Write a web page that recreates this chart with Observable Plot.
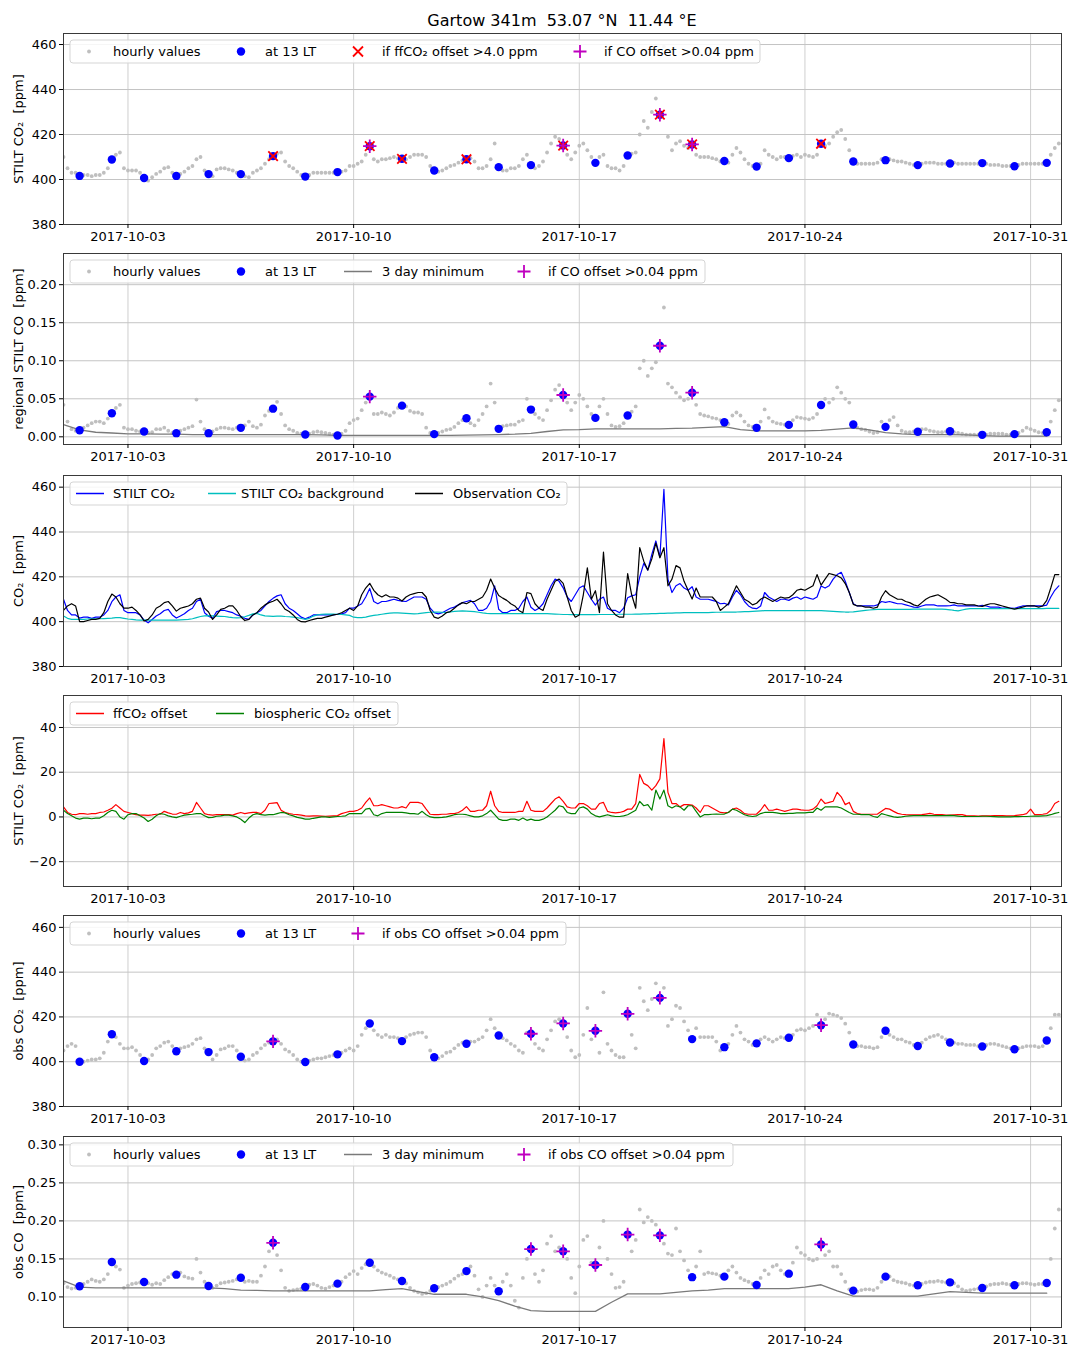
<!DOCTYPE html>
<html><head><meta charset="utf-8">
<script src="https://cdn.jsdelivr.net/npm/d3@7"></script>
<script src="https://cdn.jsdelivr.net/npm/@observablehq/plot@0.6"></script>
<style>
body{margin:0;background:#fff;font-family:"DejaVu Sans",sans-serif;}
#fig{position:relative;width:1069px;height:1349px;overflow:hidden;}
#title{position:absolute;top:11px;left:0;width:1124px;text-align:center;font-size:16px;white-space:pre;color:#000;}
</style></head>
<body><div id="fig"><div id="title">Gartow 341m  53.07 °N  11.44 °E</div></div>
<script>
// ---- sampling: each row = one day (2017-10-01 .. 2017-10-31), values at 00,03,...,21 UTC (12 UTC = 13 LT)
const hours = [0,3,6,9,12,15,18,21];
const minHours = [0,12];
const xTickDates = ["2017-10-03","2017-10-10","2017-10-17","2017-10-24","2017-10-31"];

const stiltCO2 = [
[410,405,403,403,401.6,402,402,401.5],[402,402,403,405,408.9,411,412,405],[404,404,404,403,400.7,399.5,401,402.5],
[403.5,405,405.5,403,401.6,402.5,403.5,405],[406,409,410,404,402.4,401.5,404.5,405],[405,404.5,404,403,402.4,401.5,401,403],
[404,405,407,409,410.4,411.5,412,408],[406,405,403.5,402,401.3,402,403,403],[403,403,403,403,403.3,403.5,404,406],
[406,407,408,411,414.8,409,408,409],[409,409.5,410,409.5,409.2,409,410,411],[411,411,410,406,404,403.5,404,405],
[406,406.5,407.5,408.5,409,409.5,408,405],[405,406,409,416,405.5,404,404,405],[405,406,409,411,406.4,405,406,408],
[412,416,419,418,415.1,411,409,412],[415,416,413,410,407.4,410,411,406],[405,405,404,406,410.7,411.5,412,420],
[426,423,430,436,428.8,459,419,413],[416,417,415,414,415.6,411,410,410],[410,409.5,409,408,408.2,407.5,411,414],
[412,409,407,406,405.8,407,413,411],[410,409,410,410,409.5,410.5,411,410],[411,410.5,410,411,415.9,415,416,419],
[421,422,418,413,408,407,407,407],[407,407,407.5,409,408.6,409,408.5,408],[408,407.5,407,406.5,406.4,407,407.5,407.5],
[407.5,407,407,407,407.1,407.5,407,407],[407,407,407,407,407.3,407,406.5,406.5],[406.5,406,406,406,405.9,406.5,407,407],
[407,407,407,407,407.4,411,414,416]];

const stiltCO2bg = [
[402.5,401.5,401,401,401,401,401.2,401.3],[401.3,401.3,401.4,401.5,401.6,401.8,401.8,401.5],[401.2,401,400.8,400.7,400.7,400.7,400.7,400.7],
[400.7,400.7,400.7,400.7,400.7,400.8,400.9,401],[401.3,401.8,402.3,402.6,402.7,402.6,402.5,402.4],[402.3,402,401.8,401.7,401.8,402.2,402.8,403.5],
[403.7,403,402.6,402.5,402.4,402.5,402.5,402.3],[402.2,402,401.8,401.4,401,401.5,402.5,403],[403.3,403.4,403.4,403.4,403.3,403.2,403,402.8],
[402,401.8,401.8,402,402.5,402.8,403,403.3],[403.6,403.8,403.9,403.9,403.8,403.7,403.6,403.5],[403.6,403.8,404,404.2,404.3,404.3,404.2,404],
[404.3,404.6,404.7,404.8,404.7,404.6,404.5,404.2],[403.9,403.7,403.6,403.6,403.6,403.6,403.6,403.6],[403.6,403.6,403.6,403.6,403.6,403.6,403.6,403.6],
[403.6,403.5,403.4,403.3,403.2,403.2,403.1,403.1],[403.1,403.1,403.1,403.1,403.1,403.2,403.2,403.2],[403.2,403.2,403.3,403.3,403.3,403.3,403.4,403.4],
[403.5,403.5,403.6,403.6,403.7,403.7,403.8,403.8],[403.9,403.9,404,404,404,404,404,404],[404,404.1,404.2,404.2,404.3,404.3,404.3,404.3],
[404.4,404.5,404.5,404.6,404.7,404.8,404.9,404.9],[404.9,404.9,404.9,404.9,404.9,404.9,404.9,404.9],[404.9,404.9,404.9,404.9,404.9,404.8,404.7,404.6],
[404.5,404.4,404.3,404.3,404.4,404.6,404.8,405],[405.2,405.4,405.5,405.5,405.5,405.5,405.5,405.5],[405.5,405.5,405.5,405.6,405.6,405.6,405.6,405.6],
[405.6,405.6,405.6,405.5,405.3,405,404.8,405.2],[405.6,405.8,405.8,405.8,405.8,405.8,405.8,405.8],[405.8,405.8,405.8,405.8,405.8,405.8,405.8,405.8],
[405.8,405.8,405.8,405.8,405.9,405.9,405.9,405.9]];

const obsCO2 = [
[405,407,408,407,400,400,400.5,401],[401,401.5,404,409,412.3,411,408,406],[406,406.5,405,403,400.3,401,403,406],
[407,408.5,409,407,404.7,406,406.5,407],[408,410,410.5,406,404.3,401,403,405.5],[406,407,407,405,402.2,400.5,401,403],
[404,406,407.5,408.5,409.1,410,408,405.5],[404.5,403,401,400,399.9,400.5,401,401.5],[401.5,402,402.5,403,403.3,404,405,406],
[405,407,412,415,417.1,414,412,411],[412,411,411,410.5,409.2,411,412,412.5],[413,413,411,405,402,401.5,402.5,404],
[404.5,406,407.5,408.5,408,409,409,410],[411,414,419,415,411.7,410.5,409.5,408],[407,405,404,413,412.5,408,406,405],
[410,414,418,419,417.1,411,405,402],[403,412,424,410,413.8,404,431,408],[405,403,402,402,421.4,412,406,433],
[427,423,428,435,428.5,433,416,419],[425,424,418,414,410.1,415,411,411],[411,411,409,405,406.5,408,412,416],
[413,410,409,407.5,408.2,410,411,410],[409,410,411,410.5,410.7,412,414,414.5],[414,415,416,421,416.3,419,421.5,421],
[420.5,419.5,417,413,407.7,407,407,406.5],[406.5,406,406.5,411,413.8,412,411,410],[410,409,408.5,407.5,407,408.5,410,411],
[411.5,412,411,410,408.6,408.5,408,408],[407.5,407.5,407.5,407,406.8,407.5,408,408],[407.5,407,406.5,406,405.6,406,406.5,407],
[407,407,406.5,407,409.5,415,421,421]];

const ffCO2offset = [
[4.5,2,1.2,1,1.5,1.5,1.2,1.5],[1.5,2,2.2,3,3.9,5.5,4,2.5],[2,1.5,1,0.8,0.8,0.7,0.9,1.2],
[1.2,2.5,1.8,1.3,1.2,2,1.5,1.8],[2.5,6.5,4,1.5,1,0.8,1,1],[1,1,0.8,1.5,2,1.5,1.8,2],
[2,1.5,3,6,6.2,6.4,3,2],[1.5,1.2,1,0.8,0.5,0.4,0.5,0.5],[0.4,0.3,0.4,0.5,0.6,1.5,2,2.5],
[2.5,3,4,6.5,8.5,5,5,5.5],[5,4.5,4,4,4.6,4,6.5,6.5],[6.5,6,3.5,1.2,1,1,1.2,1.2],
[1.5,1.5,2,3,4.6,2.5,2.5,3],[3,5,11.5,5,2.5,2,2,2],[2,2.5,2.5,7,3,2.5,2.5,2.5],
[4,6,8,9,7,4.5,4,4],[6,6,5,3.5,3.5,6,6.5,2.5],[2,1.8,2,2.5,3.5,3.5,6,19],
[15,14,12,14,17,35,11,6],[6,4.5,5.5,5.5,5.3,4,2,5],[5,4,3,2,1.8,2,3.5,4],
[3,1.5,1.2,1.2,1.3,3,5.5,3],[3,3.5,3,2.5,3,3.5,3.5,3.2],[3,3,3.5,5,8,6,6.5,7],
[11,9,5.5,6.5,2.5,1.5,1.2,1.2],[1.2,1.2,1.3,2.5,3.8,3.5,2.5,1.6],[1.2,1,0.9,0.9,0.9,1,1.3,1.6],
[1.2,1,1,0.8,0.8,0.9,1,1],[0.6,0.5,0.5,0.4,0.5,0.5,0.5,0.6],[0.6,0.6,0.5,0.5,0.6,0.8,1,1.5],
[3.5,1,1,1.2,1.5,3,6,7]];

const bioCO2offset = [
[3,1.5,0.5,-0.5,-1,-0.5,-0.5,-0.8],[-0.5,-0.5,0.5,2,3,2.5,0,-1],[1,1.5,1.5,0.5,-0.5,-2,-1,0.5],
[1.5,1.2,0.5,0,-0.3,0.3,0.8,1],[1.2,1.5,1.5,0.5,-0.3,-0.2,0.3,0.5],[0.8,0.8,0.5,0,-1,-2.5,-0.5,1],
[1.5,1,0.8,1,1,1.5,2,1.8],[1,0.5,-0.2,-0.5,-1,-1,-0.6,-0.3],[0,0,-0.2,0,0.2,0.3,0.5,1.5],
[1.5,1.5,1.5,3.5,3.8,1,0.5,1.5],[2,2,2,2,2,1.8,1.5,1.5],[1.2,2.5,1,0,-0.3,-0.3,-0.2,0],
[0.5,1,1.2,1.2,1,0.5,0,0],[0.5,1.5,3,1,-1,-1.5,-1.5,-1],[-1,-1.5,-0.5,-1.5,-1,-1.5,-1.5,-1],
[0,1.5,3,5,4.5,2,1.5,1.5],[4,4.5,3.5,1.5,0.5,0,0.5,1],[0.5,0.2,0.2,0.5,1,2,3,7],
[5,5.5,3,12,8,12,5,4],[5,4.5,3,5,5,2.5,0,1],[1,1.2,1.3,1.2,1.3,2,3.5,3],
[2,1,0.5,0.2,0.5,1.5,2,2],[2,1.8,1.5,1.5,1.6,1.6,1.8,1.8],[1.8,2,2,4,3,4.5,4.5,4.5],
[4.5,4,3,2,1.2,1.2,1,1],[1,0.2,-0.2,1.5,1,0.5,0,-0.2],[0,0.3,0.5,0.6,0.6,0.6,0.6,0.6],
[0.6,0.6,0.6,0.6,0.7,0.6,0.4,0.2],[0.2,0.2,0.2,0.2,0.3,0.3,0.2,0.1],[0,0,0,0,0.1,0.1,0.2,0.2],
[0.3,0.4,0.4,0.5,0.6,1,1.6,2]];

const stiltCO = [
[0.042,0.02,0.01,0.008,0.0087,0.012,0.015,0.018],[0.02,0.02,0.018,0.024,0.031,0.038,0.042,0.012],[0.01,0.01,0.008,0.007,0.007,0.005,0.006,0.01],
[0.01,0.012,0.008,0.005,0.0048,0.008,0.01,0.012],[0.014,0.049,0.02,0.01,0.0048,0.007,0.01,0.012],[0.012,0.011,0.01,0.012,0.0118,0.015,0.02,0.014],
[0.012,0.016,0.028,0.034,0.037,0.046,0.03,0.015],[0.01,0.008,0.005,0.004,0.003,0.004,0.006,0.007],[0.006,0.005,0.004,0.003,0.0017,0.004,0.008,0.018],
[0.022,0.024,0.035,0.045,0.0528,0.03,0.03,0.032],[0.03,0.028,0.032,0.038,0.041,0.04,0.034,0.032],[0.032,0.03,0.012,0.005,0.0035,0.005,0.007,0.009],
[0.01,0.013,0.018,0.022,0.0245,0.018,0.015,0.022],[0.03,0.04,0.07,0.045,0.0105,0.014,0.015,0.016],[0.016,0.02,0.022,0.05,0.0358,0.03,0.025,0.022],
[0.035,0.048,0.062,0.068,0.055,0.045,0.035,0.045],[0.055,0.05,0.04,0.03,0.0249,0.04,0.05,0.03],[0.015,0.013,0.014,0.018,0.028,0.033,0.04,0.09],
[0.1,0.08,0.09,0.098,0.1197,0.17,0.07,0.065],[0.058,0.052,0.048,0.05,0.058,0.042,0.03,0.028],[0.027,0.025,0.024,0.022,0.0192,0.017,0.028,0.032],
[0.028,0.02,0.015,0.013,0.0118,0.02,0.036,0.025],[0.02,0.018,0.017,0.016,0.0157,0.022,0.026,0.025],[0.024,0.023,0.025,0.03,0.0419,0.05,0.045,0.05],
[0.065,0.058,0.05,0.045,0.0162,0.012,0.01,0.009],[0.007,0.005,0.006,0.02,0.0131,0.022,0.026,0.015],[0.008,0.006,0.006,0.007,0.0066,0.01,0.01,0.008],
[0.007,0.006,0.006,0.007,0.0074,0.006,0.005,0.004],[0.003,0.003,0.003,0.0025,0.0026,0.003,0.004,0.004],[0.004,0.004,0.003,0.003,0.0035,0.005,0.008,0.012],
[0.01,0.008,0.006,0.005,0.0061,0.02,0.035,0.048]];

// 3 day minimum, values at 00 and 12 UTC of each day
const stiltCOmin = [
[0.016,0.009],[0.006,0.005],[0.004,0.004],[0.0035,0.0035],[0.003,0.003],[0.003,0.003],[0.003,0.003],[0.003,0.003],
[0.0025,0.002],[0.002,0.002],[0.002,0.002],[0.002,0.002],[0.002,0.0022],[0.0025,0.003],[0.0035,0.0045],[0.007,0.009],
[0.0095,0.0105],[0.0105,0.0105],[0.0105,0.0105],[0.011,0.0115],[0.0125,0.0135],[0.0095,0.0078],[0.0078,0.0078],[0.0078,0.0085],
[0.01,0.0118],[0.009,0.0055],[0.004,0.003],[0.003,0.003],[0.0025,0.0015],[0.001,0.001],[0.001,0.001]];

const obsCO = [
[0.118,0.113,0.111,0.112,0.114,0.117,0.12,0.123],[0.121,0.12,0.123,0.13,0.146,0.14,0.136,0.112],[0.115,0.117,0.118,0.119,0.1197,0.118,0.116,0.118],
[0.117,0.122,0.126,0.13,0.1293,0.132,0.127,0.125],[0.124,0.15,0.132,0.12,0.1144,0.112,0.115,0.118],[0.119,0.12,0.121,0.123,0.1253,0.12,0.121,0.12],
[0.12,0.128,0.14,0.16,0.1712,0.155,0.135,0.112],[0.108,0.109,0.11,0.111,0.1131,0.116,0.117,0.115],[0.112,0.111,0.113,0.115,0.1175,0.12,0.126,0.13],
[0.134,0.13,0.138,0.143,0.145,0.14,0.135,0.132],[0.13,0.128,0.125,0.123,0.121,0.118,0.112,0.108],[0.106,0.104,0.105,0.108,0.1114,0.113,0.115,0.117],
[0.12,0.124,0.128,0.13,0.134,0.14,0.128,0.11],[0.1,0.115,0.125,0.115,0.1074,0.12,0.13,0.115],[0.095,0.086,0.125,0.15,0.163,0.13,0.12,0.135],
[0.17,0.18,0.16,0.165,0.16,0.15,0.125,0.105],[0.14,0.175,0.18,0.145,0.142,0.165,0.2,0.15],[0.13,0.112,0.113,0.12,0.182,0.16,0.175,0.215],
[0.198,0.205,0.2,0.195,0.181,0.17,0.157,0.155],[0.19,0.16,0.148,0.135,0.126,0.14,0.16,0.13],[0.132,0.131,0.13,0.128,0.1267,0.135,0.14,0.132],
[0.125,0.122,0.12,0.117,0.1157,0.125,0.135,0.13],[0.14,0.142,0.135,0.13,0.1306,0.145,0.165,0.158],[0.155,0.15,0.148,0.15,0.169,0.155,0.16,0.14],
[0.14,0.13,0.12,0.11,0.1083,0.107,0.109,0.11],[0.11,0.109,0.112,0.12,0.1267,0.127,0.122,0.12],[0.119,0.118,0.116,0.115,0.1153,0.117,0.119,0.12],
[0.12,0.121,0.12,0.119,0.1192,0.118,0.114,0.11],[0.108,0.109,0.11,0.111,0.1118,0.114,0.116,0.117],[0.117,0.118,0.117,0.116,0.1153,0.117,0.118,0.118],
[0.117,0.116,0.117,0.117,0.1184,0.15,0.19,0.215]];

const obsCOmin = [
[0.121,0.113],[0.112,0.112],[0.112,0.112],[0.112,0.112],[0.112,0.112],[0.111,0.109],[0.1085,0.108],[0.108,0.108],
[0.108,0.108],[0.108,0.108],[0.1095,0.111],[0.107,0.1035],[0.1035,0.1035],[0.1,0.095],[0.088,0.082],[0.081,0.081],
[0.081,0.081],[0.093,0.104],[0.104,0.104],[0.106,0.108],[0.109,0.111],[0.111,0.111],[0.111,0.111],[0.113,0.116],
[0.108,0.101],[0.101,0.101],[0.101,0.101],[0.104,0.107],[0.106,0.105],[0.105,0.105],[0.105,0.105]];

const FF_LIMIT = 4.0, CO_LIMIT = 0.04;

// ---- build tables
const tOf = (d, h) => new Date(Date.UTC(2017, 9, 1 + d, h));
function series(rows, hs = hours) {
  const out = [];
  rows.forEach((r, d) => r.forEach((v, k) => out.push({t: tOf(d, hs[k]), d, h: hs[k], v})));
  return out;
}
const S_co2 = series(stiltCO2), S_bg = series(stiltCO2bg), O_co2 = series(obsCO2);
const S_ff = series(ffCO2offset), S_bio = series(bioCO2offset);
const S_co = series(stiltCO), O_co = series(obsCO);
const S_comin = series(stiltCOmin, minHours), O_comin = series(obsCOmin, minHours);
const noon = s => s.filter(p => p.h === 12);
const byDay = s => new Map(noon(s).map(p => [p.d, p.v]));
const ffNoon = byDay(S_ff);
const sCoOff = new Map(noon(S_co).map(p => [p.d, p.v - byDay(S_comin).get(p.d)]));
const oCoOff = new Map(noon(O_co).map(p => [p.d, p.v - byDay(O_comin).get(p.d)]));

const t0 = tOf(0, 0), t1 = tOf(30, 23);
const xTicks = xTickDates.map(s => new Date(s + "T00:00Z"));
const fig = document.getElementById("fig");
const FRAME_TOP = [33, 253, 474.5, 694.7, 915.3, 1136.3];
const FH = 191, MT = 6, MB = 28;

const grey = "#bfbfbf", magenta = "#bf00bf";
const smallDots = s => Plot.dot(s, {x: "t", y: "v", r: 1.9, fill: grey, clip: true});
const blueDots = s => Plot.dot(noon(s), {x: "t", y: "v", r: 4.2, fill: "blue", clip: true});
const crosses = (s, test) => Plot.dot(noon(s).filter(p => test(p.d)), {x: "t", y: "v", symbol: "times", r: 4.4, stroke: "red", strokeWidth: 1.8, fill: "none"});
const pluses = (s, test) => Plot.dot(noon(s).filter(p => test(p.d)), {x: "t", y: "v", symbol: "plus", r: 4.4, stroke: magenta, strokeWidth: 1.8, fill: "none"});
const line = (s, color, w = 1.2) => Plot.line(s, {x: "t", y: "v", stroke: color, strokeWidth: w, clip: true});

function panel(i, cfg) {
  const chart = Plot.plot({
    width: 1069, height: MT + FH + MB,
    marginTop: MT, marginBottom: MB, marginLeft: 63, marginRight: 8,
    style: {fontFamily: "DejaVu Sans, sans-serif", fontSize: "13px", color: "#000", background: "transparent", overflow: "visible"},
    x: {type: "utc", domain: [t0, t1]},
    y: {domain: cfg.domain},
    marks: [
      Plot.gridX(xTicks, {stroke: "#cfcfcf", strokeOpacity: 1, strokeWidth: 1}),
      Plot.gridY(cfg.ticks, {stroke: "#c4c4c4", strokeOpacity: 1, strokeWidth: 1}),
      ...cfg.marks,
      Plot.frame({stroke: "#3a3a3a", strokeWidth: 1}),
      Plot.axisX(xTicks, {tickFormat: d3.utcFormat("%Y-%m-%d"), tickSize: 4, tickPadding: 3, label: null, fontSize: 13}),
      Plot.axisY(cfg.ticks, {tickFormat: cfg.fmt, tickSize: 4, tickPadding: 3, fontSize: 13,
        label: cfg.label, labelAnchor: "center", labelArrow: "none", labelOffset: 50})
    ]
  });
  chart.style.position = "absolute";
  chart.style.left = "0px";
  chart.style.top = (FRAME_TOP[i] - MT) + "px";
  fig.appendChild(chart);
  legend(i, cfg.legend);
}

function legend(i, spec) {
  const top = FRAME_TOP[i] + 7, h = 23, left = 70;
  const svg = d3.select(fig).append("svg")
    .attr("width", spec.right - left + 2).attr("height", h + 2)
    .style("position", "absolute").style("left", (left - 1) + "px").style("top", (top - 1) + "px")
    .style("overflow", "visible");
  svg.append("rect").attr("x", 1).attr("y", 1).attr("width", spec.right - left).attr("height", h)
    .attr("rx", 3).attr("fill", "rgba(255,255,255,0.85)").attr("stroke", "#d5d5d5");
  const cy = 1 + h / 2;
  for (const it of spec.items) {
    const g = svg.append("g");
    const mx = it.mx - left + 1;
    if (it.k === "small") g.append("circle").attr("cx", mx).attr("cy", cy).attr("r", 1.9).attr("fill", grey);
    if (it.k === "dot") g.append("circle").attr("cx", mx).attr("cy", cy).attr("r", 4.2).attr("fill", "blue");
    if (it.k === "x") g.append("path").attr("d", `M${mx-5},${cy-5}L${mx+5},${cy+5}M${mx-5},${cy+5}L${mx+5},${cy-5}`).attr("stroke", "red").attr("stroke-width", 1.8);
    if (it.k === "plus") g.append("path").attr("d", `M${mx-6.5},${cy}L${mx+6.5},${cy}M${mx},${cy-6.5}L${mx},${cy+6.5}`).attr("stroke", magenta).attr("stroke-width", 1.8);
    if (it.k === "line") g.append("line").attr("x1", mx).attr("x2", it.mx2 - left + 1).attr("y1", cy).attr("y2", cy).attr("stroke", it.c).attr("stroke-width", 1.5);
    g.append("text").attr("x", it.tx - left + 1).attr("y", cy).attr("dy", "0.35em")
      .attr("font-family", "DejaVu Sans, sans-serif").attr("font-size", 13).attr("fill", "#000").text(it.label);
  }
}

const f0 = d3.format(".0f"), f2 = d3.format(".2f");
const ppmTicks = [380, 400, 420, 440, 460];

panel(0, {domain: [380, 464.9], ticks: ppmTicks, fmt: f0, label: "STILT CO₂  [ppm]",
  marks: [smallDots(S_co2), blueDots(S_co2), crosses(S_co2, d => ffNoon.get(d) > FF_LIMIT), pluses(S_co2, d => sCoOff.get(d) > CO_LIMIT)],
  legend: {right: 760, items: [
    {k: "small", mx: 89, tx: 113, label: "hourly values"},
    {k: "dot", mx: 241, tx: 265, label: "at 13 LT"},
    {k: "x", mx: 358, tx: 382, label: "if ffCO₂ offset >4.0 ppm"},
    {k: "plus", mx: 580, tx: 604, label: "if CO offset >0.04 ppm"}]}});

panel(1, {domain: [-0.0101, 0.241], ticks: [0, 0.05, 0.10, 0.15, 0.20], fmt: f2, label: "regional STILT CO  [ppm]",
  marks: [smallDots(S_co), line(S_comin, "#7a7a7a", 1.3), blueDots(S_co), pluses(S_co, d => sCoOff.get(d) > CO_LIMIT)],
  legend: {right: 705, items: [
    {k: "small", mx: 89, tx: 113, label: "hourly values"},
    {k: "dot", mx: 241, tx: 265, label: "at 13 LT"},
    {k: "line", c: "#7a7a7a", mx: 344, mx2: 372, tx: 382, label: "3 day minimum"},
    {k: "plus", mx: 524, tx: 548, label: "if CO offset >0.04 ppm"}]}});

panel(2, {domain: [380, 465.2], ticks: ppmTicks, fmt: f0, label: "CO₂  [ppm]",
  marks: [line(S_co2, "blue"), line(S_bg, "#00bfbf"), line(O_co2, "black")],
  legend: {right: 567, items: [
    {k: "line", c: "blue", mx: 76, mx2: 104, tx: 113, label: "STILT CO₂"},
    {k: "line", c: "#00bfbf", mx: 208, mx2: 236, tx: 241, label: "STILT CO₂ background"},
    {k: "line", c: "black", mx: 415, mx2: 443, tx: 453, label: "Observation CO₂"}]}});

panel(3, {domain: [-31.1, 54.3], ticks: [-20, 0, 20, 40], fmt: f0, label: "STILT CO₂  [ppm]",
  marks: [line(S_ff, "red"), line(S_bio, "green")],
  legend: {right: 398, items: [
    {k: "line", c: "red", mx: 76, mx2: 104, tx: 113, label: "ffCO₂ offset"},
    {k: "line", c: "green", mx: 216, mx2: 244, tx: 254, label: "biospheric CO₂ offset"}]}});

panel(4, {domain: [380, 465.3], ticks: ppmTicks, fmt: f0, label: "obs CO₂  [ppm]",
  marks: [smallDots(O_co2), blueDots(O_co2), pluses(O_co2, d => oCoOff.get(d) > CO_LIMIT)],
  legend: {right: 566, items: [
    {k: "small", mx: 89, tx: 113, label: "hourly values"},
    {k: "dot", mx: 241, tx: 265, label: "at 13 LT"},
    {k: "plus", mx: 358, tx: 382, label: "if obs CO offset >0.04 ppm"}]}});

panel(5, {domain: [0.0598, 0.311], ticks: [0.10, 0.15, 0.20, 0.25, 0.30], fmt: f2, label: "obs CO  [ppm]",
  marks: [smallDots(O_co), line(O_comin, "#7a7a7a", 1.3), blueDots(O_co), pluses(O_co, d => oCoOff.get(d) > CO_LIMIT)],
  legend: {right: 733, items: [
    {k: "small", mx: 89, tx: 113, label: "hourly values"},
    {k: "dot", mx: 241, tx: 265, label: "at 13 LT"},
    {k: "line", c: "#7a7a7a", mx: 344, mx2: 372, tx: 382, label: "3 day minimum"},
    {k: "plus", mx: 524, tx: 548, label: "if obs CO offset >0.04 ppm"}]}});
</script>
</body></html>
